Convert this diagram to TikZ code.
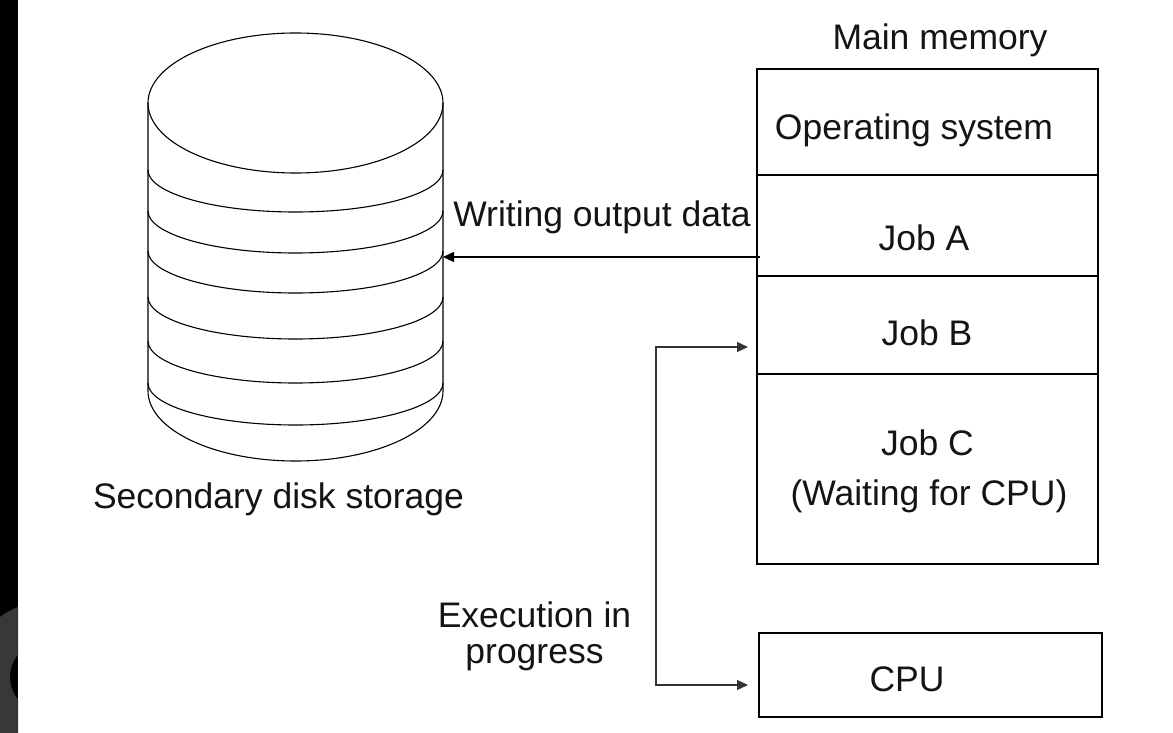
\documentclass[tikz,border=0pt]{standalone}
\usepackage{fontspec}
\setmainfont{Liberation Sans}
\usetikzlibrary{arrows.meta}
\begin{document}
\begin{tikzpicture}[x=1pt,y=-1pt,
  lbl/.style={anchor=base,inner sep=0pt,font=\fontsize{35.5}{42}\selectfont,text=black!92},
  cell/.style={draw,line width=1.4pt,inner sep=0pt,minimum width=341pt},
  conn/.style={line width=1.1pt,draw=black!80,-{Triangle[length=11pt,width=10pt]}},
  disk/.style={line width=1.1pt}]
\useasboundingbox (0,0) rectangle (1173,733);
\fill[white] (0,0) rectangle (1173,733);
% left dark strip with watermark fragment
\fill[black] (0,0) rectangle (18,733);
\begin{scope}
  \clip (0,0) rectangle (18,733);
  \fill[black!78, even odd rule] (45,677) circle[radius=75pt] (45,677) circle[radius=35pt];
\end{scope}
% disk cylinder
\draw[disk] (295.5,103) ellipse[x radius=147.5pt,y radius=70pt];
\draw[disk] (148,103) -- (148,391) arc[start angle=180,end angle=360,x radius=147.5pt,y radius=70pt] -- (443,103);
\foreach \b in {212,253,293,339,383,425}
  \draw[disk] (148,{\b-42}) arc[start angle=180,end angle=360,x radius=147.5pt,y radius=42pt];
\node[lbl] (disklbl) at (278.5,508.3) {Secondary disk storage};
% main memory
\node[lbl] (mmlbl) at (940,50) {Main memory};
\node[cell,minimum height=106pt] (os) at (927.5,122) {};
\node[cell,minimum height=101pt] (jobA) at (927.5,225.5) {};
\node[cell,minimum height=98pt] (jobB) at (927.5,325) {};
\node[cell,minimum height=190pt] (jobC) at (927.5,469) {};
\node[lbl] (oslbl) at (914,140) {Operating system};
\node[lbl] (jobAlbl) at (924,250) {Job A};
\node[lbl] (jobBlbl) at (927,345) {Job B};
\node[lbl] (jobClbl) at (927.5,455) {Job C};
\node[lbl] (waitlbl) at (929,505) {(Waiting for CPU)};
% CPU
\node[cell,minimum width=343pt,minimum height=84pt] (cpu) at (930.5,675) {};
\node[lbl] (cpulbl) at (907,691.7) {CPU};
% connectors
\coordinate (wsrc) at (760,257);
\coordinate (diskR) at (443,257);
\draw[conn,draw=black] (wsrc) -- (diskR);
\node[lbl] (writelbl) at (602,226.7) {Writing output data};
\coordinate (split) at (656,516);
\coordinate (tipB) at (748,347);
\coordinate (tipC) at (748,685);
\draw[conn] (split) |- (tipB);
\draw[conn] (split) |- (tipC);
\node[lbl] (execlbl) at (534.5,627) {Execution in};
\node[lbl] (proglbl) at (534.5,663) {progress};
\end{tikzpicture}
\end{document}
